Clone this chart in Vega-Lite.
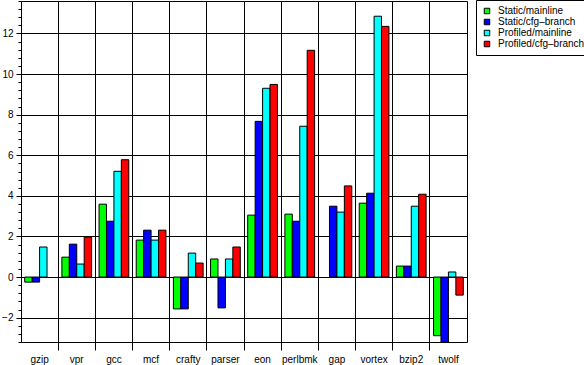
{
  "$schema": "https://vega.github.io/schema/vega-lite/v6.json",
  "width": 446,
  "height": 341,
  "autosize": "none",
  "padding": {"left": 21, "top": 1, "right": 117, "bottom": 23},
  "background": "white",
  "config": {
    "view": {"stroke": "black", "strokeWidth": 1},
    "font": "Liberation Sans"
  },
  "data": {
    "values": [
      {"bench": "gzip", "series": "Static/mainline", "value": -0.25},
      {"bench": "gzip", "series": "Static/cfg–branch", "value": -0.25},
      {"bench": "gzip", "series": "Profiled/mainline", "value": 1.48},
      {"bench": "vpr", "series": "Static/mainline", "value": 0.98},
      {"bench": "vpr", "series": "Static/cfg–branch", "value": 1.62},
      {"bench": "vpr", "series": "Profiled/mainline", "value": 0.64},
      {"bench": "vpr", "series": "Profiled/cfg–branch", "value": 1.97},
      {"bench": "gcc", "series": "Static/mainline", "value": 3.59},
      {"bench": "gcc", "series": "Static/cfg–branch", "value": 2.75},
      {"bench": "gcc", "series": "Profiled/mainline", "value": 5.21},
      {"bench": "gcc", "series": "Profiled/cfg–branch", "value": 5.78},
      {"bench": "mcf", "series": "Static/mainline", "value": 1.82},
      {"bench": "mcf", "series": "Static/cfg–branch", "value": 2.31},
      {"bench": "mcf", "series": "Profiled/mainline", "value": 1.82},
      {"bench": "mcf", "series": "Profiled/cfg–branch", "value": 2.31},
      {"bench": "crafty", "series": "Static/mainline", "value": -1.57},
      {"bench": "crafty", "series": "Static/cfg–branch", "value": -1.57},
      {"bench": "crafty", "series": "Profiled/mainline", "value": 1.18},
      {"bench": "crafty", "series": "Profiled/cfg–branch", "value": 0.69},
      {"bench": "parser", "series": "Static/mainline", "value": 0.89},
      {"bench": "parser", "series": "Static/cfg–branch", "value": -1.52},
      {"bench": "parser", "series": "Profiled/mainline", "value": 0.89},
      {"bench": "parser", "series": "Profiled/cfg–branch", "value": 1.48},
      {"bench": "eon", "series": "Static/mainline", "value": 3.05},
      {"bench": "eon", "series": "Static/cfg–branch", "value": 7.67},
      {"bench": "eon", "series": "Profiled/mainline", "value": 9.3},
      {"bench": "eon", "series": "Profiled/cfg–branch", "value": 9.49},
      {"bench": "perlbmk", "series": "Static/mainline", "value": 3.1},
      {"bench": "perlbmk", "series": "Static/cfg–branch", "value": 2.75},
      {"bench": "perlbmk", "series": "Profiled/mainline", "value": 7.43},
      {"bench": "perlbmk", "series": "Profiled/cfg–branch", "value": 11.17},
      {"bench": "gap", "series": "Static/cfg–branch", "value": 3.49},
      {"bench": "gap", "series": "Profiled/mainline", "value": 3.2},
      {"bench": "gap", "series": "Profiled/cfg–branch", "value": 4.49},
      {"bench": "vortex", "series": "Static/mainline", "value": 3.64},
      {"bench": "vortex", "series": "Static/cfg–branch", "value": 4.13},
      {"bench": "vortex", "series": "Profiled/mainline", "value": 12.85},
      {"bench": "vortex", "series": "Profiled/cfg–branch", "value": 12.35},
      {"bench": "bzip2", "series": "Static/mainline", "value": 0.54},
      {"bench": "bzip2", "series": "Static/cfg–branch", "value": 0.54},
      {"bench": "bzip2", "series": "Profiled/mainline", "value": 3.49},
      {"bench": "bzip2", "series": "Profiled/cfg–branch", "value": 4.08},
      {"bench": "twolf", "series": "Static/mainline", "value": -2.89},
      {"bench": "twolf", "series": "Static/cfg–branch", "value": -3.2},
      {"bench": "twolf", "series": "Profiled/mainline", "value": 0.25},
      {"bench": "twolf", "series": "Profiled/cfg–branch", "value": -0.89}
    ]
  },
  "mark": {"type": "bar", "stroke": "black", "strokeWidth": 1},
  "encoding": {
    "x": {
      "field": "bench",
      "type": "nominal",
      "sort": ["gzip", "vpr", "gcc", "mcf", "crafty", "parser", "eon", "perlbmk", "gap", "vortex", "bzip2", "twolf"],
      "scale": {"paddingInner": 0, "paddingOuter": 0},
      "axis": {
        "title": null,
        "labelAngle": 0,
        "bandPosition": 0,
        "grid": true,
        "gridColor": "black",
        "gridWidth": 1,
        "gridOpacity": 1,
        "domain": false,
        "ticks": true,
        "tickColor": "black",
        "tickSize": 8,
        "tickWidth": 1,
        "tickOpacity": {"condition": {"test": "datum.value === 'gzip'", "value": 0}, "value": 1},
        "labelFontSize": 10,
        "labelColor": "black",
        "labelPadding": 4
      }
    },
    "xOffset": {
      "field": "series",
      "type": "nominal",
      "sort": ["Static/mainline", "Static/cfg–branch", "Profiled/mainline", "Profiled/cfg–branch"],
      "scale": {"paddingInner": 0, "paddingOuter": 0.5}
    },
    "y": {
      "field": "value",
      "type": "quantitative",
      "scale": {"domain": [-3.2, 13.6], "nice": false, "zero": false},
      "axis": {
        "title": null,
        "values": [-3.2, -2.8, -2.4, -2, -1.6, -1.2, -0.8, -0.4, 0, 0.4, 0.8, 1.2, 1.6, 2, 2.4, 2.8, 3.2, 3.6, 4, 4.4, 4.8, 5.2, 5.6, 6, 6.4, 6.8, 7.2, 7.6, 8, 8.4, 8.8, 9.2, 9.6, 10, 10.4, 10.8, 11.2, 11.6, 12, 12.4, 12.8, 13.2, 13.6],
        "format": "~g",
        "labelExpr": "datum.value % 2 === 0 ? datum.label : ''",
        "labelOverlap": false,
        "labelFlush": false,
        "domain": false,
        "grid": true,
        "gridColor": "black",
        "gridWidth": 1,
        "gridOpacity": {"condition": {"test": "datum.value % 2 === 0", "value": 1}, "value": 0},
        "tickColor": "black",
        "tickWidth": 1,
        "tickSize": {"condition": {"test": "datum.value % 2 === 0", "value": 5}, "value": 3},
        "labelFontSize": 10,
        "labelColor": "black",
        "labelPadding": 3
      }
    },
    "color": {
      "field": "series",
      "type": "nominal",
      "scale": {
        "domain": ["Static/mainline", "Static/cfg–branch", "Profiled/mainline", "Profiled/cfg–branch"],
        "range": ["#00ff00", "#0000ff", "#00ffff", "#ff0000"]
      },
      "legend": {
        "title": null,
        "orient": "none",
        "legendX": 455,
        "legendY": -1,
        "fillColor": "white",
        "strokeColor": "black",
        "padding": 6,
        "symbolType": "square",
        "symbolSize": 30,
        "symbolStrokeColor": "black",
        "symbolStrokeWidth": 1,
        "labelFontSize": 10,
        "labelColor": "black",
        "labelOffset": 6,
        "rowPadding": 1
      }
    }
  }
}
